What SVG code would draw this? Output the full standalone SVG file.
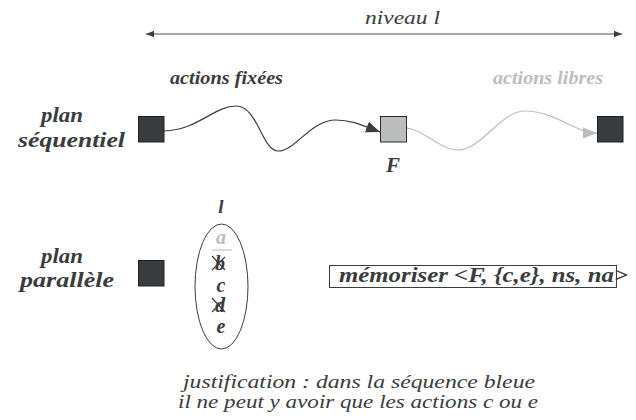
<svg xmlns="http://www.w3.org/2000/svg" width="636" height="420" viewBox="0 0 636 420">
<style>
.t{font-family:"Liberation Serif","Times New Roman",serif;font-style:italic;fill:#3a3c3e}
.b{font-weight:bold}
.sq{fill:#383c3f;stroke:#1e2022;stroke-width:1}
</style>
<defs>
<marker id="ad" viewBox="0 0 10 10" refX="10" refY="5" markerWidth="8" markerHeight="8" markerUnits="userSpaceOnUse" orient="auto"><path d="M0,1 L10,5 L0,9 Z" fill="#3a3c3e"/></marker>
<marker id="ads" viewBox="0 0 10 10" refX="0" refY="5" markerWidth="8" markerHeight="8" markerUnits="userSpaceOnUse" orient="auto"><path d="M10,1 L0,5 L10,9 Z" fill="#3a3c3e"/></marker>
<marker id="ak" viewBox="0 0 10 10" refX="10" refY="5" markerWidth="14" markerHeight="14" markerUnits="userSpaceOnUse" orient="auto"><path d="M0,1 L10,5 L0,9 Z" fill="#3a3c3e"/></marker>
<marker id="ag" viewBox="0 0 10 10" refX="10" refY="5" markerWidth="14" markerHeight="14" markerUnits="userSpaceOnUse" orient="auto"><path d="M0,1 L10,5 L0,9 Z" fill="#bcbcbc"/></marker>
</defs>
<g id="niveau">
<line x1="146" y1="34" x2="622" y2="34" stroke="#8a8a8a" stroke-width="1.5" marker-start="url(#ads)" marker-end="url(#ad)"/>
<text class="t" x="365" y="24" font-size="19" textLength="75" lengthAdjust="spacingAndGlyphs">niveau l</text>
</g>
<g id="labels">
<text class="t b" x="170" y="84" font-size="19" textLength="113" lengthAdjust="spacingAndGlyphs">actions fixées</text>
<text class="t b" x="493" y="84" font-size="19" textLength="110" lengthAdjust="spacingAndGlyphs" style="fill:#bdbdbd">actions libres</text>
<text class="t b" x="41" y="122" font-size="20" textLength="42" lengthAdjust="spacingAndGlyphs">plan</text>
<text class="t b" x="18" y="147" font-size="20" textLength="107" lengthAdjust="spacingAndGlyphs">séquentiel</text>
<text class="t b" x="41" y="263" font-size="20" textLength="42" lengthAdjust="spacingAndGlyphs">plan</text>
<text class="t b" x="20" y="287" font-size="20" textLength="94" lengthAdjust="spacingAndGlyphs">parallèle</text>
</g>
<g id="s1"><rect class="sq" x="138.5" y="116.5" width="25.5" height="25.5"/></g>
<g id="F"><rect x="380.5" y="116.5" width="26" height="25.5" fill="#bbbcbd" stroke="#2a2c2e"/>
<text class="t b" x="393" y="172" font-size="21" text-anchor="middle">F</text></g>
<g id="s3"><rect class="sq" x="597.5" y="116.5" width="25.5" height="25.5"/></g>
<g id="p1"><rect class="sq" x="138.5" y="260.5" width="25.5" height="25.5"/></g>
<g id="set">
<text class="t b" x="221" y="213" font-size="19" text-anchor="middle">l</text>
<ellipse cx="221.5" cy="286.5" rx="26.5" ry="62.5" fill="none" stroke="#3a3c3e" stroke-width="1"/>
<text class="t b" x="221" y="244" font-size="20" text-anchor="middle" style="fill:#bdbdbd">a</text>
<line x1="212" y1="250" x2="232" y2="250" stroke="#bdbdbd" stroke-width="1"/>
<text class="t b" x="220" y="270" font-size="20" text-anchor="middle">b</text>
<path d="M212,256 L225,270 M212,270 L225,257" stroke="#3a3c3e" stroke-width="1.2" fill="none"/>
<text class="t b" x="221" y="292" font-size="20" text-anchor="middle">c</text>
<text class="t b" x="220" y="312" font-size="20" text-anchor="middle">d</text>
<path d="M212,298 L225,312 M212,312 L225,299" stroke="#3a3c3e" stroke-width="1.2" fill="none"/>
<text class="t b" x="221" y="333" font-size="20" text-anchor="middle">e</text>
</g>
<g id="memo">
<text class="t b" x="339" y="282" font-size="20" textLength="289" lengthAdjust="spacingAndGlyphs">mémoriser &lt;F, {c,e}, ns, na&gt;</text>
<rect x="329.5" y="265.5" width="287" height="22" fill="none" stroke="#3a3c3e" stroke-width="1"/>
</g>
<g id="connectors" fill="none">
<path d="M164,131 C198,130 214,106 236,106 C258,106 262,151 278,151 C296,151 310,120 336,120 C352,120 364,126 380,132" stroke="#3a3c3e" stroke-width="1.2" marker-end="url(#ak)"/>
<path d="M407,128 C425,130 440,150 458,150 C482,150 500,111 525,111 C555,111 575,133 597,133" stroke="#bcbcbc" stroke-width="1.2" marker-end="url(#ag)"/>
</g>
<g id="note">
<text class="t" x="183" y="388" font-size="18" textLength="352" lengthAdjust="spacingAndGlyphs">justification : dans la séquence bleue</text>
<text class="t" x="178" y="408" font-size="18" textLength="360" lengthAdjust="spacingAndGlyphs">il ne peut y avoir que les actions c ou e</text>
</g>
</svg>
